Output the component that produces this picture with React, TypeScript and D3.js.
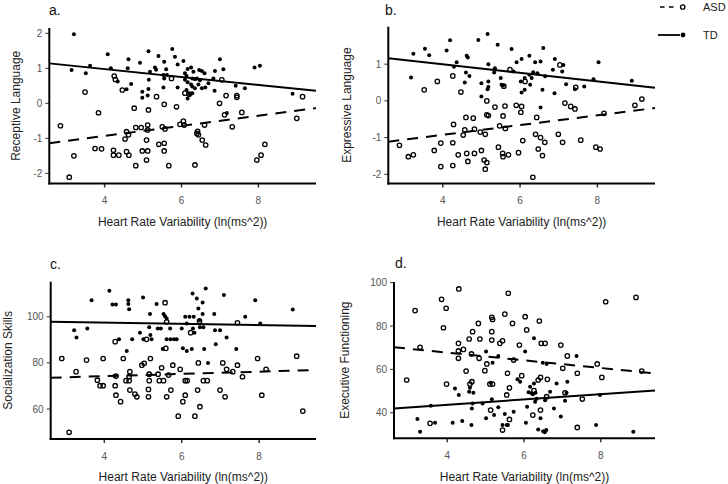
import React from 'react';
import * as d3 from 'd3';

type P = [number, number];

const xTickValues = [4, 6, 8];
const aYTicks = [-2, -1, 0, 1, 2];
const bYTicks = [-2, -1, 0, 1];
const cYTicks = [60, 80, 100];
const dYTicks = [40, 60, 80, 100];

const panelLetters = ['a.', 'b.', 'c.', 'd.'];
const yTitles = ['Receptive Language', 'Expressive Language', 'Socialization Skills', 'Executive Functioning'];
const xTitle = 'Heart Rate Variability (ln(ms^2))';
const groups = ['ASD', 'TD'];

// fitted lines: [intercept, slope]
const aTdFit = [1.43, -0.113];
const aAsdFit = [-1.51, 0.1445];
const bTdFit = [1.463, -0.1167];
const bAsdFit = [-1.455, 0.1328];
const cTdFit = [98.48, -0.262];
const cAsdFit = [72.29, 0.488];
const dTdFit = [38.83, 1.213];
const dAsdFit = [74.83, -1.775];

const aTD: P[] = [[3.20,1.97],[3.14,0.95],[3.51,0.86],[3.62,1.07],[4.08,1.40],[4.16,1.00],[4.34,0.62],[4.62,1.26],[4.60,1.00],[4.69,0.55],[4.57,0.40],[4.92,1.16],[5.14,1.49],[5.18,0.90],[5.15,0.67],[5.14,0.41],[4.98,0.33],[4.98,0.16],[5.12,0.22],[5.40,1.35],[5.55,1.19],[5.31,1.02],[5.34,0.96],[5.60,0.97],[5.55,0.71],[5.53,0.45],[5.76,1.55],[5.83,1.33],[6.05,1.21],[5.90,1.11],[6.16,0.98],[6.25,1.02],[6.31,0.90],[6.46,0.95],[6.53,0.92],[6.60,0.86],[6.09,0.86],[6.13,0.78],[6.28,0.71],[6.35,0.69],[6.40,0.71],[6.48,0.66],[6.09,0.67],[6.16,0.60],[6.25,0.54],[6.28,0.48],[6.35,0.43],[6.44,0.54],[6.53,0.43],[6.62,0.45],[6.13,0.38],[6.28,0.29],[6.22,0.26],[6.16,0.14],[5.53,0.81],[5.62,0.81],[6.70,0.57],[6.86,0.36],[6.83,0.71],[6.87,0.92],[7.00,1.26],[7.09,0.97],[7.41,0.50],[7.65,0.43],[7.18,-0.28],[7.90,1.02],[8.04,1.07],[8.89,0.27],[5.90,0.45]];
const aASD: P[] = [[2.85,-0.64],[3.08,-2.11],[3.20,-1.50],[3.49,0.32],[3.75,-1.29],[3.84,-0.27],[3.92,-1.30],[4.25,0.78],[4.28,0.68],[4.46,0.38],[4.23,-1.34],[4.23,-1.48],[4.37,-1.48],[4.57,-1.38],[4.63,-1.48],[4.57,-0.81],[4.62,-0.90],[4.53,-1.02],[4.77,-0.14],[4.81,-0.69],[4.95,-0.69],[4.81,-1.78],[4.98,-1.36],[5.12,-1.36],[5.09,-1.05],[5.09,-1.62],[5.12,-0.62],[5.12,-0.76],[5.14,-0.19],[5.35,0.19],[5.41,-1.17],[5.50,-0.67],[5.57,-0.73],[5.55,-1.14],[5.55,-1.36],[5.55,-0.03],[5.67,-1.78],[5.74,0.71],[5.87,-0.10],[5.96,-0.60],[6.05,-0.51],[6.07,-0.62],[6.09,0.29],[6.20,0.26],[6.35,-1.76],[6.42,-0.80],[6.44,-0.90],[6.40,-0.86],[6.54,-1.05],[6.63,-1.19],[6.60,-0.62],[6.99,0.00],[7.05,0.67],[7.12,-0.33],[7.16,0.22],[7.32,-0.67],[7.44,0.22],[7.44,0.17],[7.57,-0.26],[7.96,-1.62],[8.07,-1.48],[8.17,-1.17],[9.00,-0.43],[9.15,0.19]];

const bTD: P[] = [[3.18,0.64],[3.24,1.28],[3.54,1.42],[3.65,1.24],[4.10,1.37],[4.19,1.65],[4.36,1.05],[4.29,0.93],[4.62,1.23],[4.65,1.18],[4.60,0.77],[4.57,0.50],[4.69,0.68],[4.92,1.66],[5.00,0.48],[5.00,0.12],[5.16,1.82],[5.18,1.00],[5.18,0.53],[5.18,0.38],[5.16,0.32],[5.42,1.53],[5.35,0.89],[5.33,0.77],[5.50,0.62],[5.52,0.44],[5.56,0.42],[5.78,1.41],[5.83,0.80],[5.91,1.05],[6.04,1.14],[6.02,0.53],[6.04,0.23],[6.12,0.30],[6.24,1.23],[6.24,0.71],[6.30,0.62],[6.26,0.44],[6.39,1.05],[6.53,1.07],[6.60,1.44],[6.53,-0.18],[6.58,0.30],[6.65,0.67],[6.85,0.85],[6.89,0.21],[6.90,1.14],[7.09,0.80],[7.12,0.98],[7.19,0.45],[7.42,0.32],[7.66,0.39],[7.90,0.59],[8.03,1.05],[8.89,0.55],[6.34,0.78],[6.45,0.75],[6.12,0.62]];
const bASD: P[] = [[2.88,-1.21],[3.11,-1.52],[3.24,-1.47],[3.52,0.30],[3.78,-1.35],[3.86,0.53],[3.95,-1.15],[3.95,-1.79],[4.26,0.68],[4.28,-0.64],[4.26,-1.14],[4.26,-1.76],[4.40,-1.47],[4.47,0.24],[4.53,-0.93],[4.57,-0.79],[4.60,-0.45],[4.62,-1.43],[4.65,-1.65],[4.79,-0.47],[4.82,-0.77],[4.82,-1.43],[4.97,-0.85],[5.00,-1.35],[5.10,-0.91],[5.07,-1.61],[5.10,-1.86],[5.14,-1.68],[5.14,0.00],[5.14,-0.38],[5.18,-0.40],[5.35,-0.17],[5.44,-1.26],[5.47,-0.68],[5.56,-0.41],[5.55,-1.43],[5.56,-1.52],[5.61,-0.14],[5.62,-0.75],[5.70,-1.47],[5.58,0.40],[5.74,0.85],[5.90,-0.12],[5.96,-1.41],[6.04,-0.15],[6.02,-0.31],[6.07,-1.08],[6.13,0.53],[6.33,-2.08],[6.40,-0.91],[6.43,-0.45],[6.47,-1.31],[6.53,-1.00],[6.58,-1.49],[6.64,-1.13],[6.99,-0.91],[7.03,0.98],[7.10,-1.13],[7.16,-0.06],[7.31,-0.15],[7.42,-0.22],[7.44,0.37],[7.57,-1.07],[7.96,-1.26],[8.07,-1.31],[8.17,-0.34],[8.97,-0.12],[9.15,0.05]];

const cTD: P[] = [[3.22,94.2],[3.28,91.0],[3.56,94.9],[3.67,107.2],[4.13,111.3],[4.21,105.3],[4.30,105.3],[4.26,74.3],[4.38,90.2],[4.58,85.1],[4.62,107.2],[4.62,105.5],[4.64,103.3],[4.72,90.2],[4.92,93.1],[5.00,108.4],[5.01,90.3],[5.16,95.4],[5.18,101.2],[5.19,92.1],[5.22,90.2],[5.35,105.5],[5.38,94.9],[5.46,94.9],[5.53,101.2],[5.57,100.2],[5.61,99.2],[5.51,86.0],[5.61,90.2],[5.71,90.2],[5.70,94.9],[5.80,90.2],[5.87,90.2],[6.00,94.9],[6.09,100.0],[6.13,97.1],[6.03,86.3],[6.13,85.1],[6.20,100.0],[6.26,86.0],[6.28,110.1],[6.29,94.9],[6.31,100.0],[6.33,93.1],[6.39,107.9],[6.43,103.6],[6.46,98.6],[6.47,95.4],[6.54,106.2],[6.54,101.2],[6.56,95.4],[6.58,86.0],[6.62,112.3],[6.68,80.0],[6.84,101.2],[6.86,94.2],[6.88,88.1],[6.99,94.2],[7.09,109.4],[7.16,91.0],[7.41,86.0],[7.64,100.0],[7.90,107.2],[8.03,97.1],[8.87,103.2]];
const cASD: P[] = [[2.90,81.9],[3.09,49.9],[3.27,76.2],[3.54,81.2],[3.97,81.9],[3.82,72.5],[3.89,70.1],[3.97,70.1],[4.28,89.2],[4.28,70.1],[4.30,66.0],[4.30,74.3],[4.42,63.2],[4.49,81.9],[4.56,72.3],[4.64,72.3],[4.64,74.0],[4.66,76.2],[4.66,68.2],[4.79,66.5],[4.84,65.3],[4.97,79.0],[5.03,79.8],[5.09,90.2],[5.14,68.5],[5.14,65.3],[5.16,72.3],[5.19,81.9],[5.16,75.1],[5.39,75.1],[5.42,72.3],[5.48,77.9],[5.53,72.3],[5.57,106.1],[5.59,86.3],[5.61,97.8],[5.61,65.3],[5.66,74.7],[5.72,68.2],[5.77,79.0],[5.91,56.9],[5.96,77.2],[6.03,63.2],[6.09,66.0],[6.09,72.3],[6.14,72.3],[6.23,93.1],[6.34,56.9],[6.41,68.2],[6.43,80.0],[6.46,98.1],[6.47,61.0],[6.56,72.3],[6.66,72.3],[6.99,68.2],[7.06,80.0],[7.12,65.3],[7.16,77.2],[7.32,76.2],[7.44,97.4],[7.44,79.0],[7.57,74.0],[7.96,81.9],[8.07,66.0],[8.18,77.2],[8.97,82.9],[9.13,59.1]];

const dTD: P[] = [[3.22,37.1],[3.29,31.2],[3.57,43.2],[3.68,35.4],[4.14,35.4],[4.20,51.2],[4.30,48.2],[4.39,36.2],[4.57,49.7],[4.59,51.5],[4.63,34.3],[4.64,42.0],[4.68,49.2],[4.66,44.3],[4.92,44.3],[5.01,37.4],[5.01,68.2],[5.13,53.8],[5.16,46.2],[5.18,63.1],[5.22,38.9],[5.33,66.2],[5.33,42.5],[5.44,34.3],[5.50,39.4],[5.55,34.3],[5.58,34.3],[5.73,40.5],[5.83,55.4],[5.90,54.3],[6.03,68.2],[6.05,35.4],[6.08,42.8],[6.12,49.5],[6.16,52.0],[6.20,49.0],[6.23,48.5],[6.26,74.3],[6.29,45.1],[6.30,49.2],[6.33,46.5],[6.26,53.5],[6.37,32.3],[6.43,37.4],[6.49,63.1],[6.50,31.5],[6.54,31.0],[6.58,32.0],[6.55,45.8],[6.59,62.5],[6.68,49.7],[6.78,42.0],[6.85,53.5],[6.96,38.2],[7.07,45.5],[7.11,49.2],[7.13,54.3],[7.37,66.2],[7.88,34.3],[7.98,48.2],[8.85,31.2]];
const dASD: P[] = [[2.94,55.1],[3.16,87.1],[3.29,70.2],[3.55,35.1],[3.85,92.3],[3.90,79.2],[3.97,88.2],[3.98,53.2],[4.29,72.0],[4.29,68.5],[4.29,65.1],[4.30,97.1],[4.42,69.2],[4.49,59.2],[4.57,74.0],[4.59,53.2],[4.63,67.1],[4.64,54.3],[4.66,77.4],[4.81,81.2],[4.85,74.0],[4.83,65.1],[4.98,59.4],[5.03,62.5],[5.11,53.2],[5.13,41.2],[5.16,84.0],[5.18,83.0],[5.16,77.4],[5.16,73.5],[5.18,53.2],[5.37,72.0],[5.44,73.2],[5.44,32.0],[5.50,85.5],[5.55,48.2],[5.57,58.2],[5.59,95.1],[5.62,51.5],[5.62,36.9],[5.70,81.2],[5.73,64.3],[5.88,71.2],[5.94,57.1],[6.03,84.3],[6.07,78.2],[6.23,38.9],[6.26,50.2],[6.37,55.1],[6.40,82.3],[6.43,41.2],[6.43,56.3],[6.45,72.0],[6.55,72.0],[6.61,55.4],[6.59,47.4],[6.96,71.2],[7.01,60.5],[7.07,49.2],[7.13,66.2],[7.39,58.2],[7.39,33.2],[7.52,46.3],[7.91,62.5],[8.03,56.3],[8.13,91.2],[8.92,93.2],[9.07,59.2]];

interface PanelProps {
  box: { l: number; r: number; t: number; b: number };
  xDom: [number, number];
  yDom: [number, number];
  yTicks: number[];
  td: P[];
  asd: P[];
  tdFit: number[];
  asdFit: number[];
  letter: string;
  letterPos: [number, number];
  yTitle: string;
  yTitleX: number;
}

const FONT = '"Liberation Sans", Arial, sans-serif';

function Panel(p: PanelProps) {
  const { box } = p;
  const x = d3.scaleLinear().domain(p.xDom).range([box.l, box.r]);
  const y = d3.scaleLinear().domain(p.yDom).range([box.b, box.t]);
  const fitPath = (f: number[]) =>
    d3.line<number>().x((v) => x(v)).y((v) => y(f[0] + f[1] * v))(p.xDom as number[]) || '';
  const tickLen = 4;
  return (
    <g>
      <text x={p.letterPos[0]} y={p.letterPos[1]} fontSize={14} fill="#111" fontFamily={FONT}>{p.letter}</text>
      {p.yTicks.map((t) => (
        <g key={'y' + t}>
          <line x1={box.l - tickLen} x2={box.l} y1={y(t)} y2={y(t)} stroke="#333" strokeWidth={1} />
          <text x={box.l - tickLen - 3} y={y(t)} dy="0.35em" textAnchor="end" fontSize={10} fill="#555" fontFamily={FONT}>{t}</text>
        </g>
      ))}
      {xTickValues.map((t) => (
        <g key={'x' + t}>
          <line x1={x(t)} x2={x(t)} y1={box.b} y2={box.b + tickLen} stroke="#333" strokeWidth={1.5} />
          <text x={x(t)} y={box.b + 17} dy="0.35em" textAnchor="middle" fontSize={10} fill="#555" fontFamily={FONT}>{t}</text>
        </g>
      ))}
      <path d={fitPath(p.tdFit)} stroke="#000" strokeWidth={2} fill="none" />
      <path d={fitPath(p.asdFit)} stroke="#000" strokeWidth={2} fill="none" strokeDasharray="11,8" />
      {p.td.map((d, i) => (
        <circle key={'t' + i} cx={x(d[0])} cy={y(d[1])} r={2} fill="#000" />
      ))}
      {p.asd.map((d, i) => (
        <circle key={'a' + i} cx={x(d[0])} cy={y(d[1])} r={2.2} fill="none" stroke="#000" strokeWidth={1.3} />
      ))}
      <line x1={box.l} x2={box.l} y1={box.t} y2={box.b + 1} stroke="#000" strokeWidth={2} />
      <line x1={box.l - 1} x2={box.r} y1={box.b} y2={box.b} stroke="#000" strokeWidth={2} />
      <text x={(box.l + box.r) / 2} y={box.b + 38} dy="0.35em" textAnchor="middle" fontSize={12} fill="#222" fontFamily={FONT}>{xTitle}</text>
      <text transform={`translate(${p.yTitleX},${(box.t + box.b) / 2}) rotate(-90)`} dy="0.35em" textAnchor="middle" fontSize={12} fill="#222" fontFamily={FONT}>{p.yTitle}</text>
    </g>
  );
}

export default function App() {
  return (
    <svg width={728} height={484} style={{ position: 'absolute', left: 0, top: 0, background: '#fff' }}>
      <rect width={728} height={484} fill="#fff" />
      <Panel box={{ l: 49.3, r: 316, t: 28, b: 183.5 }} xDom={[2.56, 9.5]} yDom={[-2.29, 2.151]} yTicks={aYTicks}
        td={aTD} asd={aASD} tdFit={aTdFit} asdFit={aAsdFit} letter={panelLetters[0]} letterPos={[49, 15]} yTitle={yTitles[0]} yTitleX={15.5} />
      <Panel box={{ l: 388.3, r: 655, t: 26.7, b: 183.5 }} xDom={[2.592, 9.49]} yDom={[-2.25, 2.02]} yTicks={bYTicks}
        td={bTD} asd={bASD} tdFit={bTdFit} asdFit={bAsdFit} letter={panelLetters[1]} letterPos={[385, 15]} yTitle={yTitles[1]} yTitleX={347} />
      <Panel box={{ l: 50.7, r: 316, t: 281.7, b: 439 }} xDom={[2.614, 9.47]} yDom={[47.0, 115.2]} yTicks={cYTicks}
        td={cTD} asd={cASD} tdFit={cTdFit} asdFit={cAsdFit} letter={panelLetters[2]} letterPos={[50, 269]} yTitle={yTitles[2]} yTitleX={8} />
      <Panel box={{ l: 394, r: 655, t: 282, b: 438.3 }} xDom={[2.61, 9.416]} yDom={[28.2, 100.3]} yTicks={dYTicks}
        td={dTD} asd={dASD} tdFit={dTdFit} asdFit={dAsdFit} letter={panelLetters[3]} letterPos={[395, 268]} yTitle={yTitles[3]} yTitleX={345} />
      <g fontFamily={FONT}>
        <line x1={660} x2={677} y1={7} y2={7} stroke="#000" strokeWidth={1.5} strokeDasharray="4.5,4.5" />
        <circle cx={682.7} cy={7} r={2.2} fill="#fff" stroke="#000" strokeWidth={1.3} />
        <text x={703} y={7} dy="0.35em" fontSize={11} fill="#222">{groups[0]}</text>
        <line x1={658} x2={680} y1={35} y2={35} stroke="#000" strokeWidth={1.8} />
        <circle cx={683} cy={35} r={2.4} fill="#000" />
        <text x={703} y={35} dy="0.35em" fontSize={11} fill="#222">{groups[1]}</text>
      </g>
    </svg>
  );
}
